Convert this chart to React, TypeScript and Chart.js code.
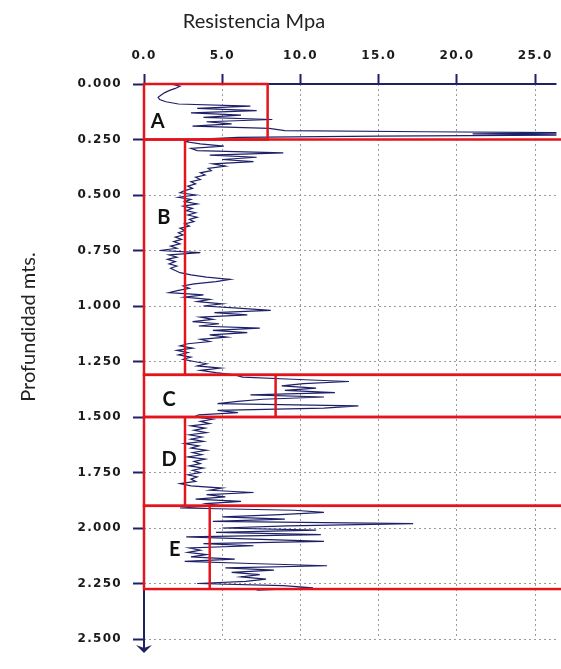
import React, { useEffect, useRef } from 'react';
import { Chart, registerables } from 'chart.js';

Chart.register(...registerables);

// Depth (m) and cone resistance (MPa)
const depths = [
  0.00, 0.01, 0.02, 0.03, 0.04, 0.05, 0.06, 0.07, 0.08, 0.09,
  0.10, 0.11, 0.12, 0.13, 0.14, 0.15, 0.16, 0.17, 0.18, 0.19,
  0.20, 0.21, 0.215, 0.22, 0.225, 0.23, 0.235, 0.24, 0.25, 0.26, 0.27, 0.28, 0.29,
  0.30, 0.31, 0.32, 0.33, 0.34, 0.35, 0.36, 0.37, 0.38, 0.39,
  0.40, 0.41, 0.42, 0.43, 0.44, 0.45, 0.46, 0.47, 0.48, 0.49,
  0.50, 0.51, 0.52, 0.53, 0.54, 0.55, 0.56, 0.57, 0.58, 0.59,
  0.60, 0.61, 0.62, 0.63, 0.64, 0.65, 0.66, 0.67, 0.68, 0.69,
  0.70, 0.71, 0.72, 0.73, 0.74, 0.75, 0.76, 0.77, 0.78, 0.79,
  0.80, 0.81, 0.82, 0.83, 0.84, 0.85, 0.86, 0.87, 0.88, 0.89,
  0.90, 0.91, 0.92, 0.93, 0.94, 0.95, 0.96, 0.97, 0.98, 0.99,
  1.00, 1.01, 1.02, 1.03, 1.04, 1.05, 1.06, 1.07, 1.08, 1.09,
  1.10, 1.11, 1.12, 1.13, 1.14, 1.15, 1.16, 1.17, 1.18, 1.19,
  1.20, 1.21, 1.22, 1.23, 1.24, 1.25, 1.26, 1.27, 1.28, 1.29,
  1.30, 1.31, 1.32, 1.33, 1.34, 1.35, 1.36, 1.37, 1.38, 1.39,
  1.40, 1.41, 1.42, 1.43, 1.44, 1.45, 1.46, 1.47, 1.48, 1.49,
  1.50, 1.51, 1.52, 1.53, 1.54, 1.55, 1.56, 1.57, 1.58, 1.59,
  1.60, 1.61, 1.62, 1.63, 1.64, 1.65, 1.66, 1.67, 1.68, 1.69,
  1.70, 1.71, 1.72, 1.73, 1.74, 1.75, 1.76, 1.77, 1.78, 1.79,
  1.80, 1.81, 1.82, 1.83, 1.84, 1.85, 1.86, 1.87, 1.88, 1.89,
  1.90, 1.91, 1.92, 1.93, 1.94, 1.95, 1.96, 1.97, 1.98, 1.99,
  2.00, 2.01, 2.02, 2.03, 2.04, 2.05, 2.06, 2.07, 2.08, 2.09,
  2.10, 2.11, 2.12, 2.13, 2.14, 2.15, 2.16, 2.17, 2.18, 2.19,
  2.20, 2.21, 2.22, 2.23, 2.24, 2.25, 2.26, 2.27, 2.28,
];

const resistance = [
  1.7, 2.3, 2.0, 1.6, 1.3, 1.1, 0.9, 1.0, 1.4, 2.2,
  6.8, 3.4, 7.2, 3.0, 6.2, 3.8, 8.2, 4.0, 5.6, 3.1,
  8.0, 9.0, 18.0, 27.5, 21.0, 27.0, 15.0, 6.0, 3.0, 2.7, 3.6, 5.1, 3.0,
  3.4, 8.9, 4.2, 7.2, 5.0, 7.0, 4.4, 5.2, 4.1, 4.3,
  3.6, 3.9, 3.3, 3.6, 3.0, 3.3, 2.8, 3.1, 2.6, 2.3,
  3.3, 2.2, 3.0, 2.6, 3.4, 2.5, 3.1, 2.7, 3.3, 2.8,
  3.4, 2.9, 3.2, 2.6, 2.9, 2.3, 2.6, 2.2, 2.5, 2.0,
  2.4, 1.9, 2.3, 1.7, 2.1, 1.0, 3.6, 1.6, 2.1, 1.5,
  2.0, 1.6, 2.1, 1.7, 2.0, 2.3, 3.0, 4.0, 5.5, 4.6,
  3.2, 2.5, 2.9, 2.2, 1.6, 3.8, 2.6, 4.2, 3.4, 5.0,
  3.8, 6.0, 8.1, 4.5, 6.6, 3.6, 4.4, 3.1, 4.8, 3.5,
  7.4, 4.4, 6.6, 4.2, 5.3, 3.6, 4.2, 2.8, 2.3, 3.1,
  2.1, 2.8, 2.2, 3.0, 2.5, 3.2, 4.0, 3.4, 4.9, 3.6,
  4.6, 5.8, 6.3, 9.5, 13.1, 10.2, 8.8, 11.0, 9.0, 12.2,
  6.8, 11.5, 7.6, 6.0, 4.7, 13.7, 11.5, 4.7, 6.0, 3.5,
  3.2, 4.4, 3.6, 4.2, 3.0, 3.9, 3.2, 4.0, 2.9, 3.7,
  3.0, 3.8, 2.6, 3.5, 3.0, 4.0, 3.1, 3.7, 2.8, 3.9,
  3.2, 3.6, 2.9, 3.8, 3.1, 3.6, 2.8, 3.4, 3.0, 3.3,
  2.3, 3.0, 5.0, 4.2, 7.0, 4.0, 5.2, 3.3, 6.2, 4.0,
  4.9, 2.3, 9.6, 11.5, 8.7, 5.0, 9.0, 4.4, 17.2, 9.2,
  5.0, 11.0, 4.6, 11.3, 2.7, 7.0, 11.5, 3.8, 7.0, 2.9,
  3.6, 2.8, 4.0, 3.0, 5.8, 2.6, 6.8, 11.7, 5.2, 8.3,
  5.6, 7.4, 6.2, 7.8, 6.5, 3.4, 8.9, 10.8, 7.2,
];

const xTicks = [0, 5, 10, 15, 20, 25];
const yTicks = [0, 0.25, 0.5, 0.75, 1.0, 1.25, 1.5, 1.75, 2.0, 2.25, 2.5];

// Zones (layers) marked with red boxes
const zoneLabels = ['A', 'B', 'C', 'D', 'E'];
const zoneTop = [0, 0.25, 1.31, 1.5, 1.9];
const zoneBottom = [0.25, 1.31, 1.5, 1.9, 2.275];
const zoneRight = [7.9, 30, 30, 30, 30];
const zoneMean = [null, 2.62, 8.41, 2.62, 4.2];
const zoneLabelX = [0.88, 1.26, 1.61, 1.61, 1.96];
const zoneLabelDepth = [0.167, 0.6, 1.421, 1.693, 2.096];

const xTitle = 'Resistencia Mpa';
const yTitle = 'Profundidad mts.';

const NAVY = '#1e2168';
const RED = '#e3141c';

const overlay = {
  id: 'overlay',
  beforeDraw(chart: any) {
    chart.ctx.letterSpacing = '1.3px';
  },
  beforeDatasetsDraw(chart: any) {
    chart.ctx.letterSpacing = '0px';
  },
  afterDatasetsDraw(chart: any) {
    const { ctx, chartArea } = chart;
    const xs = chart.scales.x;
    const ys = chart.scales.y;
    ctx.save();
    ctx.letterSpacing = '0px';
    // axis lines
    ctx.strokeStyle = NAVY;
    ctx.lineWidth = 2;
    ctx.beginPath();
    ctx.moveTo(chartArea.left, chartArea.top);
    ctx.lineTo(chartArea.right, chartArea.top);
    ctx.moveTo(chartArea.left, chartArea.top);
    ctx.lineTo(chartArea.left, chartArea.bottom + 9);
    ctx.stroke();
    // arrow head
    const ax = chartArea.left;
    const ay = chartArea.bottom + 6;
    ctx.fillStyle = NAVY;
    ctx.beginPath();
    ctx.moveTo(ax - 8, ay);
    ctx.lineTo(ax, ay + 3);
    ctx.lineTo(ax + 8, ay);
    ctx.lineTo(ax, ay + 8);
    ctx.closePath();
    ctx.fill();
    // zone boxes
    ctx.strokeStyle = RED;
    ctx.lineWidth = 2.5;
    for (let i = 0; i < zoneLabels.length; i++) {
      const x0 = xs.getPixelForValue(0);
      const x1 = xs.getPixelForValue(zoneRight[i]);
      const y0 = ys.getPixelForValue(zoneTop[i]);
      const y1 = ys.getPixelForValue(zoneBottom[i]);
      ctx.strokeRect(x0, y0, x1 - x0, y1 - y0);
      const m = zoneMean[i];
      if (m !== null) {
        const mx = xs.getPixelForValue(m);
        ctx.beginPath();
        ctx.moveTo(mx, y0);
        ctx.lineTo(mx, y1);
        ctx.stroke();
      }
    }
    // zone letters
    ctx.fillStyle = '#111111';
    ctx.font = 'bold 20px Lato';
    ctx.textAlign = 'center';
    ctx.textBaseline = 'middle';
    for (let i = 0; i < zoneLabels.length; i++) {
      ctx.fillText(
        zoneLabels[i],
        xs.getPixelForValue(zoneLabelX[i]),
        ys.getPixelForValue(zoneLabelDepth[i])
      );
    }
    ctx.restore();
  },
  afterDraw(chart: any) {
    const { ctx } = chart;
    ctx.save();
    ctx.letterSpacing = '0px';
    ctx.fillStyle = '#222222';
    ctx.font = '20px Lato';
    ctx.textAlign = 'center';
    ctx.textBaseline = 'alphabetic';
    ctx.fillText(xTitle, 254, 28);
    ctx.translate(35, 327);
    ctx.rotate(-Math.PI / 2);
    ctx.fillText(yTitle, 0, 0);
    ctx.restore();
  },
};

export default function App() {
  const ref = useRef<HTMLCanvasElement | null>(null);

  useEffect(() => {
    if (!ref.current) return;
    const points = depths.map((d, i) => ({ x: resistance[i], y: d }));
    const tickFont = { family: 'DejaVu Sans', weight: 'bold' as const, size: 12 };
    const chart = new Chart(ref.current, {
      type: 'scatter',
      data: {
        datasets: [
          {
            data: points,
            showLine: true,
            borderColor: NAVY,
            borderWidth: 1.2,
            pointRadius: 0,
            tension: 0,
          },
        ],
      },
      options: {
        responsive: false,
        devicePixelRatio: 1,
        animation: false,
        layout: { padding: { top: 0, left: 0, right: 0, bottom: 30 } },
        plugins: { legend: { display: false }, tooltip: { enabled: false } },
        scales: {
          x: {
            type: 'linear',
            position: 'top',
            min: 0,
            max: 26.36,
            afterBuildTicks: (s: any) => {
              s.ticks = xTicks.map((v) => ({ value: v }));
            },
            afterFit: (s: any) => {
              s.height = 84;
            },
            ticks: {
              autoSkip: false,
              maxRotation: 0,
              padding: 11,
              color: '#1a1a1a',
              font: tickFont,
              callback: (v: any) => Number(v).toFixed(1),
            },
            grid: {
              color: '#9a9a9a',
              lineWidth: 1,
              tickLength: 10,
              tickColor: NAVY,
              tickWidth: 2,
              tickBorderDash: [],
            },
            border: { display: false, dash: [2, 3] },
          },
          y: {
            type: 'linear',
            position: 'left',
            reverse: true,
            min: 0,
            max: 2.5,
            afterBuildTicks: (s: any) => {
              s.ticks = yTicks.map((v) => ({ value: v }));
            },
            afterFit: (s: any) => {
              s.width = 144;
            },
            ticks: {
              autoSkip: false,
              padding: 11,
              color: '#1a1a1a',
              font: tickFont,
              callback: (v: any) => Number(v).toFixed(3),
            },
            grid: {
              color: '#9a9a9a',
              lineWidth: 1,
              tickLength: 11,
              tickColor: NAVY,
              tickWidth: 2,
              tickBorderDash: [],
            },
            border: { display: false, dash: [2, 3] },
          },
        },
      },
      plugins: [overlay],
    });
    return () => chart.destroy();
  }, []);

  return (
    <div style={{ position: 'absolute', left: 0, top: 0, width: 561, height: 669, background: '#ffffff' }}>
      <canvas ref={ref} width={561} height={669} style={{ display: 'block' }} />
    </div>
  );
}
